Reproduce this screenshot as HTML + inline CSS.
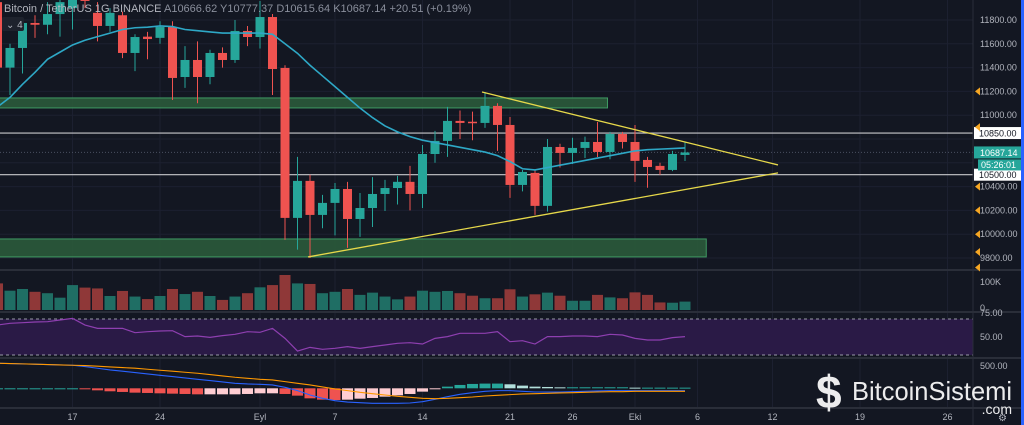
<!DOCTYPE html>
<html><head><meta charset="utf-8">
<style>
html,body{margin:0;padding:0;background:#131722;overflow:hidden}
svg{display:block;font-family:"Liberation Sans",sans-serif}
</style></head>
<body>
<svg id="chart" width="1024" height="425" viewBox="0 0 1024 425" xmlns="http://www.w3.org/2000/svg">
<rect x="0" y="0" width="1024" height="425" fill="#131722"/>
<g id="grid"></g>
<g id="zones"></g>
<g id="hlines"></g>
<g id="candles"></g>
<g id="ma"></g>
<g id="tri"></g>
<g id="vol"></g>
<g id="rsi"></g>
<g id="macd"></g>
<g id="axes"></g>
<text x="4" y="12" fill="#b2b5be" font-size="11">Bitcoin / TetherUS  1G  BINANCE  <tspan fill="#8a8f9c">A10666.62 Y10777.37 D10615.64 K10687.14 +20.51 (+0.19%)</tspan></text>
<rect x="2" y="17" width="22" height="14" rx="2" fill="#1e222d"/>
<text x="6" y="28" fill="#b2b5be" font-size="10">⌄ 4</text>
<g>
<text x="816" y="408" fill="#ffffff" font-size="46" font-weight="bold" opacity="0.92">$</text>
<text x="852" y="400" fill="#ffffff" font-size="26" textLength="160" lengthAdjust="spacingAndGlyphs" opacity="0.92">BitcoinSistemi</text>
<text x="1012" y="414" fill="#ffffff" font-size="14" text-anchor="end" opacity="0.92">.com</text>
</g>
</svg>
<script>
const opens=[11950,11400,11565,11775,11760,11850,11900,12000,11860,11750,11840,11523,11660,11650,11741,11321,11464,11321,11523,11464,11708,11657,11825,11397,10137,10448,10162,10263,10380,10128,10220,10338,10388,10440,10338,10674,10784,10952,10945,10935,11078,10918,10414,10515,10238,10733,10683,10725,10775,10691,10842,10775,10624,10574,10540,10666];
const highs=[12000,11600,11820,11840,11950,12000,12050,12050,11950,11900,11870,11680,11700,11790,11790,11580,11620,11550,11570,11800,11750,11960,11850,11420,10650,10500,10330,10430,10440,10346,10480,10456,10490,10574,10750,10868,11070,11040,11030,11195,11100,10985,10540,10540,10800,10760,10810,10820,10943,10860,10860,10918,10650,10600,10700,10777];
const lows=[11300,11170,11350,11650,11680,11660,11720,11900,11620,11700,11480,11370,11470,11600,11128,11230,11100,11260,11400,11440,11580,11560,11170,9952,9870,9800,10050,9990,9885,9977,10060,10195,10250,10200,10220,10600,10650,10800,10790,10893,10700,10305,10360,10162,10190,10560,10590,10640,10649,10630,10720,10440,10390,10500,10530,10615];
const closes=[11400,11565,11775,11760,11850,11950,12000,11960,11750,11860,11523,11657,11640,11741,11313,11464,11321,11523,11464,11708,11657,11825,11388,10137,10448,10162,10263,10380,10128,10220,10338,10388,10440,10338,10674,10784,10952,10935,10935,11078,10918,10414,10523,10238,10733,10683,10725,10775,10691,10842,10775,10616,10565,10540,10674,10687];
const maValues=[11070,11150,11260,11360,11470,11530,11590,11630,11660,11690,11720,11735,11740,11750,11745,11720,11710,11700,11690,11690,11690,11690,11680,11600,11520,11420,11330,11240,11150,11060,10980,10910,10860,10820,10790,10770,10750,10730,10710,10690,10660,10610,10550,10540,10560,10580,10600,10620,10640,10660,10680,10700,10710,10715,10720,10725];
const volumeK=[95,69,75,65,60,44,89,80,77,50,68,48,39,50,75,57,65,50,36,48,60,81,89,125,95,93,60,65,75,54,62,48,38,48,69,65,68,60,51,42,42,74,48,56,62,51,33,33,54,45,42,63,54,27,26,30];
const rsiValues=[63.3,65.2,65.9,66.7,67,68.9,70.7,63.3,59.6,59.6,59.6,54.8,55.9,56.7,57,50.4,51.1,49.6,51.5,53,55.9,55.2,59.6,48.5,34.4,38.5,36.3,37.4,39.3,37.4,39.3,41.1,43,43.7,42.2,48.5,50.4,54.1,54.1,54.1,55.9,44.8,45.9,42.2,50.4,50.4,51.1,51.1,50.4,53,52.2,48.5,46.7,46.7,49.3,50.4];
const macdValues=[570,562,555,547,540,532,524,494,456,418,388,357,327,296,266,236,205,175,144,114,99,91,76,23,-53,-152,-228,-281,-312,-327,-342,-342,-342,-334,-304,-251,-190,-137,-99,-68,-53,-53,-68,-84,-84,-84,-76,-68,-61,-53,-53,-53,-53,-53,-53,-53];
const signalValues=[570,562,555,547,540,532,524,517,502,486,471,456,433,410,388,365,342,312,281,251,228,205,190,152,114,76,30,-15,-53,-91,-122,-152,-182,-205,-228,-236,-228,-213,-198,-175,-160,-144,-129,-122,-114,-106,-99,-91,-84,-76,-76,-68,-68,-68,-68,-68];
const dateLabels=["17","24","Eyl","7","14","21","26","Eki","6","12","19","26"];
const dateIdx=[6,13,21,27,34,41,46,51,56,62,69,76];
const levels=[10850,10500];
const lastPrice=10687.14;
const zonesData=[[-1,48.8,11145,11061],[-1,56.7,9960,9809]];
const triUpper=[[38.76,11195],[62.44,10582]];
const triLower=[[24.84,9809],[62.44,10515]];

const NS="http://www.w3.org/2000/svg";
const X=i=>-2.5+12.5*i;
const PY=p=>20+(11800-p)*0.119;
const VY=v=>310-v*0.28;
const RY=v=>337-(v-50)*0.9;
const MY=v=>388.3-v*0.044;
const PLOT_R=973;
const GREEN="#26a69a",RED="#ef5350";
function mk(tag,attrs,parent){const e=document.createElementNS(NS,tag);for(const k in attrs)e.setAttribute(k,attrs[k]);parent.appendChild(e);return e;}
const g=id=>document.getElementById(id);

const grid=g("grid");
[11800,11600,11400,11200,11000,10800,10600,10400,10200,10000,9800].forEach(p=>{const l=mk("line",{x1:0,x2:PLOT_R,y1:PY(p),y2:PY(p),stroke:"#1c2030","stroke-width":1},grid);

});
dateIdx.forEach(i=>{const l=mk("line",{x1:X(i),x2:X(i),y1:0,y2:408,stroke:"#1c2030","stroke-width":1},grid);

});

zonesData.forEach(z=>{const r=mk("rect",{x:X(z[0]),y:PY(z[2]),width:X(z[1])-X(z[0]),height:PY(z[3])-PY(z[2]),fill:"#2b5a3b","fill-opacity":0.9,stroke:"#3f9a63","stroke-width":1},g("zones"));

});

levels.forEach(p=>{const l=mk("line",{x1:0,x2:PLOT_R,y1:PY(p),y2:PY(p),stroke:"#c8c8cc","stroke-width":1.2},g("hlines"));

});
const cl=mk("line",{x1:0,x2:PLOT_R,y1:PY(lastPrice),y2:PY(lastPrice),stroke:"#4a5060","stroke-width":1,"stroke-dasharray":"1 2"},g("hlines"));



const cg=g("candles");
closes.forEach((c,i)=>{const o=opens[i],col=c>=o?GREEN:RED,x=X(i);
const w=mk("line",{x1:x,x2:x,y1:PY(highs[i]),y2:PY(lows[i]),stroke:col,"stroke-width":1},cg);


const t=PY(Math.max(o,c)),b=PY(Math.min(o,c));
const r=mk("rect",{x:x-4.5,y:t,width:9,height:Math.max(1.5,b-t),fill:col},cg);

});

const maPath=mk("polyline",{points:maValues.map((v,i)=>X(i)+","+PY(v)).join(" "),fill:"none",stroke:"#2ea8c6","stroke-width":1.6},g("ma"));



[triUpper,triLower].forEach(t=>{const l=mk("line",{x1:X(t[0][0]),y1:PY(t[0][1]),x2:X(t[1][0]),y2:PY(t[1][1]),stroke:"#e6d84a","stroke-width":1.3},g("tri"));

});

volumeK.forEach((v,i)=>{const col=closes[i]>=opens[i]?"#1f6e64":"#8f3838";
const r=mk("rect",{x:X(i)-5.5,y:VY(v),width:11,height:310-VY(v),fill:col},g("vol"));

});

const rg=g("rsi");
const rb=mk("rect",{x:0,y:RY(70),width:PLOT_R,height:RY(30)-RY(70),fill:"#2a1a46"},rg);


[70,30].forEach(v=>{const l=mk("line",{x1:0,x2:PLOT_R,y1:RY(v),y2:RY(v),stroke:"#9a9aa8","stroke-width":1,"stroke-dasharray":"3 3"},rg);

});
const rl=mk("polyline",{points:rsiValues.map((v,i)=>X(i)+","+RY(v)).join(" "),fill:"none",stroke:"#8e3fb0","stroke-width":1.2},rg);



const mg=g("macd");
let prevH=0;
macdValues.forEach((m,i)=>{const h=m-signalValues[i];
const col=h>=0?(h>=prevH?"#26a69a":"#b2dfdb"):(h<prevH?"#ef5350":"#ffcdd2");prevH=h;
const y0=MY(0),y1=MY(h);
const r=mk("rect",{x:X(i)-5.5,y:Math.min(y0,y1),width:11,height:Math.max(1,Math.abs(y1-y0)),fill:col},mg);

});
const ml=mk("polyline",{points:macdValues.map((v,i)=>X(i)+","+MY(v)).join(" "),fill:"none",stroke:"#2962ff","stroke-width":1.1},mg);


const sl=mk("polyline",{points:signalValues.map((v,i)=>X(i)+","+MY(v)).join(" "),fill:"none",stroke:"#ff9800","stroke-width":1.1},mg);



const ax=g("axes");
[270,312,358,408].forEach(y=>{const l=mk("line",{x1:0,x2:1024,y1:y,y2:y,stroke:"#2a2e39","stroke-width":2},ax);

});
const ab=mk("line",{x1:PLOT_R,x2:PLOT_R,y1:0,y2:425,stroke:"#2a2e39","stroke-width":1},ax);


const eb=mk("rect",{x:1021,y:0,width:3,height:425,fill:"#2962ff"},ax);


function label(txt,x,y,opts,name){const t=mk("text",Object.assign({x:x,y:y,fill:"#b2b5be","font-size":9},opts||{}),ax);t.textContent=txt;

return t;}
[11800,11600,11400,11200,11000,10400,10200,10000,9800].forEach(p=>label(p.toFixed(2),980,PY(p)+3,{},"price-tick-label"));
levels.forEach(p=>{
const r=mk("rect",{x:974,y:PY(p)-6,width:47,height:12,fill:"#ffffff"},ax);


label(p.toFixed(2),979,PY(p)+3.5,{fill:"#131722"},"level-price-text");});
const lp=mk("rect",{x:974,y:PY(lastPrice)-6,width:47,height:12,fill:"#26a69a"},ax);


label(lastPrice.toFixed(2),980,PY(lastPrice)+3.5,{fill:"#ffffff"},"last-price-text");
const cd=mk("rect",{x:978,y:PY(lastPrice)+7,width:43,height:11,fill:"#26a69a"},ax);


label("05:26:01",981,PY(lastPrice)+15.5,{fill:"#ffffff"},"countdown-text");
[11200,10900,10400,10200,10000,9850,9720].forEach(p=>{const y=PY(p);const t=mk("polygon",{points:`975,${y} 980,${y-4} 980,${y+4}`,fill:"#f5a623"},ax);

});
label("100K",980,VY(100)+3,{},"volume-tick-label");
label("0",980,311,{},"volume-tick-label");
label("75.00",980,316,{},"rsi-tick-label");
label("50.00",980,340,{},"rsi-tick-label");
label("500.00",980,369,{},"macd-tick-label");
dateLabels.forEach((d,k)=>label(d,X(dateIdx[k]),420,{"text-anchor":"middle"},"date-label"));
label("⚙",998,421,{"font-size":10},"settings-icon");
</script>
</body></html>
